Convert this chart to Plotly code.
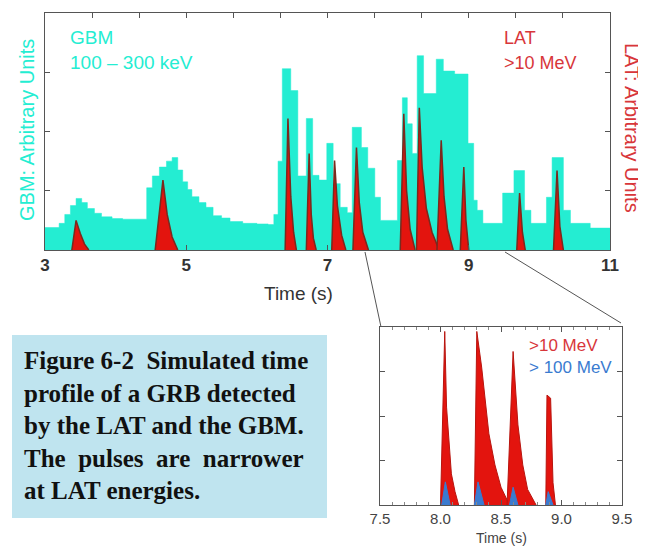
import plotly.graph_objects as go

# GBM 100-300 keV light curve (step histogram: bin start time, level)
gbm_t = [3.00, 3.20, 3.28, 3.36, 3.44, 3.52, 3.60, 3.70, 3.80, 3.95, 4.10, 4.40,
         4.44, 4.52, 4.62, 4.72, 4.80, 4.88, 4.95, 5.02, 5.08, 5.18, 5.28, 5.38,
         5.50, 5.62, 5.80, 6.00, 6.16, 6.24, 6.30, 6.36, 6.48, 6.58, 6.70, 6.79,
         6.88, 6.99, 7.08, 7.18, 7.28, 7.35, 7.48, 7.57, 7.67, 7.75, 7.99, 8.06,
         8.13, 8.20, 8.27, 8.36, 8.54, 8.64, 8.80, 8.99, 9.07, 9.12, 9.20, 9.48,
         9.64, 9.79, 9.88, 10.10, 10.18, 10.34, 10.44, 10.72, 11.00]
gbm_y = [0.38, 0.45, 0.60, 0.75, 0.87, 0.80, 0.70, 0.62, 0.56, 0.53, 0.52, 0.52,
         1.05, 1.25, 1.40, 1.50, 1.56, 1.35, 1.15, 1.02, 0.90, 0.80, 0.72, 0.58,
         0.54, 0.48, 0.45, 0.44, 0.43, 0.60, 1.50, 3.06, 2.69, 1.25, 2.22, 1.26,
         1.18, 1.80, 1.12, 0.72, 0.63, 2.07, 1.73, 1.38, 0.89, 0.50, 1.51, 2.57,
         2.13, 1.63, 3.28, 2.64, 3.22, 3.02, 2.97, 1.80, 0.84, 0.67, 0.45, 0.96,
         1.34, 0.67, 0.45, 0.89, 1.56, 0.67, 0.45, 0.37, 0.37]

# LAT >10 MeV pulses in the main panel (times, levels)
lat_t = [
    [3.38, 3.44, 3.50, 3.56, 3.62],
    [4.56, 4.67, 4.73, 4.80, 4.88],
    [6.40, 6.44, 6.48, 6.52, 6.56],
    [6.70, 6.74, 6.77, 6.80, 6.84],
    [7.06, 7.10, 7.14, 7.20, 7.26],
    [7.36, 7.41, 7.45, 7.50, 7.58],
    [8.03, 8.08, 8.12, 8.17, 8.24],
    [8.26, 8.30, 8.34, 8.40, 8.48, 8.58],
    [8.55, 8.61, 8.65, 8.70, 8.78],
    [8.88, 8.93, 8.96, 9.00],
    [9.68, 9.72, 9.76, 9.80],
    [10.20, 10.25, 10.29, 10.34],
]
lat_y = [
    [0, 0.50, 0.28, 0.10, 0],
    [0, 1.18, 0.60, 0.22, 0],
    [0, 2.22, 0.90, 0.30, 0],
    [0, 1.63, 0.60, 0.20, 0],
    [0, 1.51, 0.75, 0.25, 0],
    [0, 1.73, 0.80, 0.30, 0],
    [0, 2.30, 1.00, 0.35, 0],
    [0, 2.40, 1.40, 0.70, 0.30, 0],
    [0, 1.85, 0.90, 0.35, 0],
    [0, 1.40, 0.50, 0],
    [0, 0.96, 0.30, 0],
    [0, 1.34, 0.40, 0],
]

# zoomed panel: >10 MeV and >100 MeV pulses
zoom10_t = [
    [8.00, 8.035, 8.05, 8.07, 8.09, 8.12, 8.15],
    [8.28, 8.30, 8.34, 8.37, 8.40, 8.45, 8.50, 8.57],
    [8.55, 8.60, 8.64, 8.68, 8.72, 8.79],
    [8.87, 8.88, 8.91, 8.93, 8.95],
]
zoom10_y = [
    [0, 3.9, 2.2, 1.4, 0.7, 0.3, 0],
    [0, 3.9, 3.1, 2.3, 1.6, 0.9, 0.4, 0],
    [0, 3.45, 1.8, 0.9, 0.35, 0],
    [0, 2.47, 2.4, 0.5, 0],
]
zoom100_t = [
    [8.01, 8.04, 8.08],
    [8.28, 8.31, 8.36],
    [8.57, 8.60, 8.64],
    [8.87, 8.89, 8.93],
]
zoom100_y = [
    [0, 0.52, 0],
    [0, 0.52, 0],
    [0, 0.40, 0],
    [0, 0.30, 0],
]

CYAN = "#24EDD2"
RED = "#E3140E"
DARKRED = "#7A2A1E"
LABELRED = "#D8363A"
BLUE = "#3A7BD0"
FONT = "Liberation Sans, Arial, sans-serif"
W, H = 646, 550
OFF = 8  # page body margin shifts the figure


def px(x):
    return (x - OFF) / W


def py(y):
    return 1 - (y - OFF) / H


main_x = [px(45), px(610)]
main_y = [py(250), py(13)]
ins_x = [px(380), px(622)]
ins_y = [py(505), py(327)]

fig = go.Figure()

fig.add_trace(go.Scatter(
    x=gbm_t, y=gbm_y, mode="lines", line_shape="hv",
    line=dict(color=CYAN, width=0.5), fill="tozeroy", fillcolor=CYAN,
    xaxis="x", yaxis="y", showlegend=False, hoverinfo="skip",
))
for t, y in zip(lat_t, lat_y):
    fig.add_trace(go.Scatter(
        x=t, y=y, mode="lines", fill="toself", fillcolor=RED,
        line=dict(color=DARKRED, width=1.5),
        xaxis="x3", yaxis="y", showlegend=False, hoverinfo="skip",
    ))

for t, y in zip(zoom10_t, zoom10_y):
    fig.add_trace(go.Scatter(
        x=t, y=y, mode="lines", fill="toself", fillcolor=RED,
        line=dict(color="#B8140E", width=1),
        xaxis="x2", yaxis="y2", showlegend=False, hoverinfo="skip",
    ))
for t, y in zip(zoom100_t, zoom100_y):
    fig.add_trace(go.Scatter(
        x=t, y=y, mode="lines", fill="toself", fillcolor=BLUE,
        line=dict(color=BLUE, width=1),
        xaxis="x2", yaxis="y2", showlegend=False, hoverinfo="skip",
    ))

axis_common = dict(showgrid=False, zeroline=False, showline=True, automargin=False,
                   linecolor="#555", linewidth=1, ticks="inside",
                   tickcolor="#555", ticklen=5)

fig.update_layout(
    width=W, height=H,
    margin=dict(l=0, r=0, t=0, b=0, autoexpand=False),
    paper_bgcolor="white", plot_bgcolor="white",
    font=dict(family=FONT, color="#333"),
    xaxis=dict(domain=main_x, anchor="y", range=[3, 11], tickvals=[3, 5, 7, 9, 11],
               ticktext=["<b>3</b>", "<b>5</b>", "<b>7</b>", "<b>9</b>", "<b>11</b>"],
               mirror=True, tickfont=dict(size=17, color="#333"), **axis_common),
    xaxis3=dict(overlaying="x", side="top", range=[3, 11], tick0=3, dtick=2 / 3,
                showticklabels=False, showgrid=False, zeroline=False, automargin=False,
                ticks="inside", tickcolor="#555", ticklen=5),
    yaxis=dict(domain=main_y, anchor="x", range=[0, 4], tickvals=[1, 2, 3],
               showticklabels=False, mirror="ticks", **axis_common),
    xaxis2=dict(domain=ins_x, anchor="y2", range=[7.5, 9.5], dtick=0.5, tickformat=".1f",
                mirror="ticks", tickfont=dict(size=15, color="#444"),
                minor=dict(dtick=0.1, ticks="inside", ticklen=3, tickcolor="#888"),
                **axis_common),
    yaxis2=dict(domain=ins_y, anchor="x2", range=[0, 4], tickvals=[1, 2, 3],
                showticklabels=False, mirror="ticks", **axis_common),
)

# caption box
fig.add_shape(type="rect", xref="paper", yref="paper",
              x0=px(12), x1=px(327), y0=py(518), y1=py(335),
              fillcolor="#BFE4EF", line_width=0, layer="below")
fig.add_annotation(
    xref="paper", yref="paper", x=px(22), y=py(425), xanchor="left", yanchor="middle",
    align="left", showarrow=False,
    text="<b>Figure 6-2  Simulated time<br>profile of a GRB detected<br>"
         "by the LAT and the GBM.<br>The  pulses  are  narrower<br>at LAT energies.</b>",
    font=dict(family="Liberation Serif, Times New Roman, serif", size=25, color="#111"),
)

# zoom connector lines
fig.add_shape(type="line", xref="paper", yref="paper",
              x0=px(365), y0=py(252), x1=px(381), y1=py(327),
              line=dict(color="#555", width=1))
fig.add_shape(type="line", xref="paper", yref="paper",
              x0=px(505), y0=py(252), x1=px(621), y1=py(323),
              line=dict(color="#555", width=1))

# labels
labels = [
    ("GBM", 68, 37, CYAN, 19, "left", 0),
    ("100 \u2013 300 keV", 68, 63, CYAN, 19, "left", 0),
    ("LAT", 502, 38, LABELRED, 18, "left", 0),
    (">10 MeV", 502, 63, LABELRED, 18, "left", 0),
    ("GBM: Arbitrary Units", 27, 130, CYAN, 20, "center", -90),
    ("LAT: Arbitrary Units", 632, 128, LABELRED, 20, "center", 90),
    ("Time (s)", 298, 293, "#333", 19, "center", 0),
    (">10 MeV", 527, 345, LABELRED, 17, "left", 0),
    ("> 100 MeV", 527, 367, BLUE, 17, "left", 0),
    ("Time (s)", 502, 538, "#444", 14, "center", 0),
]
for text, x, y, color, size, anchor, ang in labels:
    fig.add_annotation(xref="paper", yref="paper", x=px(x), y=py(y),
                       xanchor=anchor, yanchor="middle", showarrow=False,
                       text=text, textangle=ang, font=dict(size=size, color=color))

fig.write_html("out.html")
